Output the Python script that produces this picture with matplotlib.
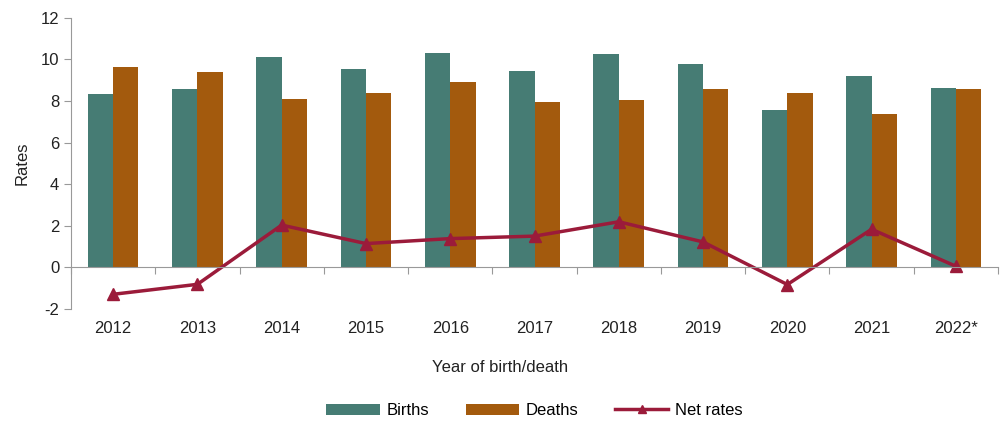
import numpy as np
import matplotlib
matplotlib.use('Agg')
from matplotlib import pyplot as plt

years = ["2012", "2013", "2014", "2015", "2016", "2017", "2018", "2019", "2020", "2021", "2022*"]
births = [8.34, 8.58, 10.13, 9.53, 10.30, 9.43, 10.24, 9.78, 7.57, 9.20, 8.65]
deaths = [9.64, 9.40, 8.10, 8.39, 8.92, 7.93, 8.05, 8.56, 8.40, 7.37, 8.60]
net_rates = [-1.30, -0.82, 2.03, 1.14, 1.38, 1.50, 2.19, 1.22, -0.83, 1.83, 0.05]

plt.rcParams["font.family"] = ["Liberation Sans", "DejaVu Sans"]
plt.rcParams["axes.unicode_minus"] = False

fig = plt.figure(figsize=(10, 4.26), dpi=100)
ax = fig.add_axes([0.071, 0.275, 0.927, 0.683])

x = np.arange(len(years))
w = 0.3
b1 = ax.bar(x - w / 2, births, w, color="#467C74", label="Births")
b2 = ax.bar(x + w / 2, deaths, w, color="#A35A0D", label="Deaths")
ln, = ax.plot(x, net_rates, color="#9B1B3A", lw=2.5, marker="^", ms=9, label="Net rates")

ax.set_xlim(-0.5, len(years) - 0.5)
ax.set_ylim(-2, 12)
ax.set_yticks(range(-2, 13, 2))

for s in ["top", "right"]:
    ax.spines[s].set_visible(False)
ax.spines["left"].set_color("#999999")
ax.spines["bottom"].set_color("#999999")
ax.spines["bottom"].set_position(("data", 0))

# boundary ticks on the zero line, labels at bottom
ax.set_xticks(np.arange(-0.5, len(years), 1.0))
ax.set_xticklabels([])
ax.tick_params(axis="x", which="major", direction="out", length=5, color="#999999")
ax.set_xticks(x, minor=True)
ax.set_xticklabels(years, minor=True)
ax.tick_params(axis="x", which="minor", length=0, pad=39, labelsize=12, labelcolor="#222222")
ax.tick_params(axis="y", length=5, color="#999999", labelsize=12, labelcolor="#222222")

ax.set_ylabel("Rates", fontsize=12, color="#222222", labelpad=8)
fig.text(0.5, 0.138, "Year of birth/death", ha="center", va="center", fontsize=12, color="#222222")

leg = ax.legend([b1, b2, ln], ["Births", "Deaths", "Net rates"], loc="center",
                bbox_to_anchor=(0.5, -0.35), ncol=3, frameon=False, markerscale=0.7,
                fontsize=12, handlelength=3.2, columnspacing=2.2, handletextpad=0.4)

fig.savefig("out.png", dpi=100)
